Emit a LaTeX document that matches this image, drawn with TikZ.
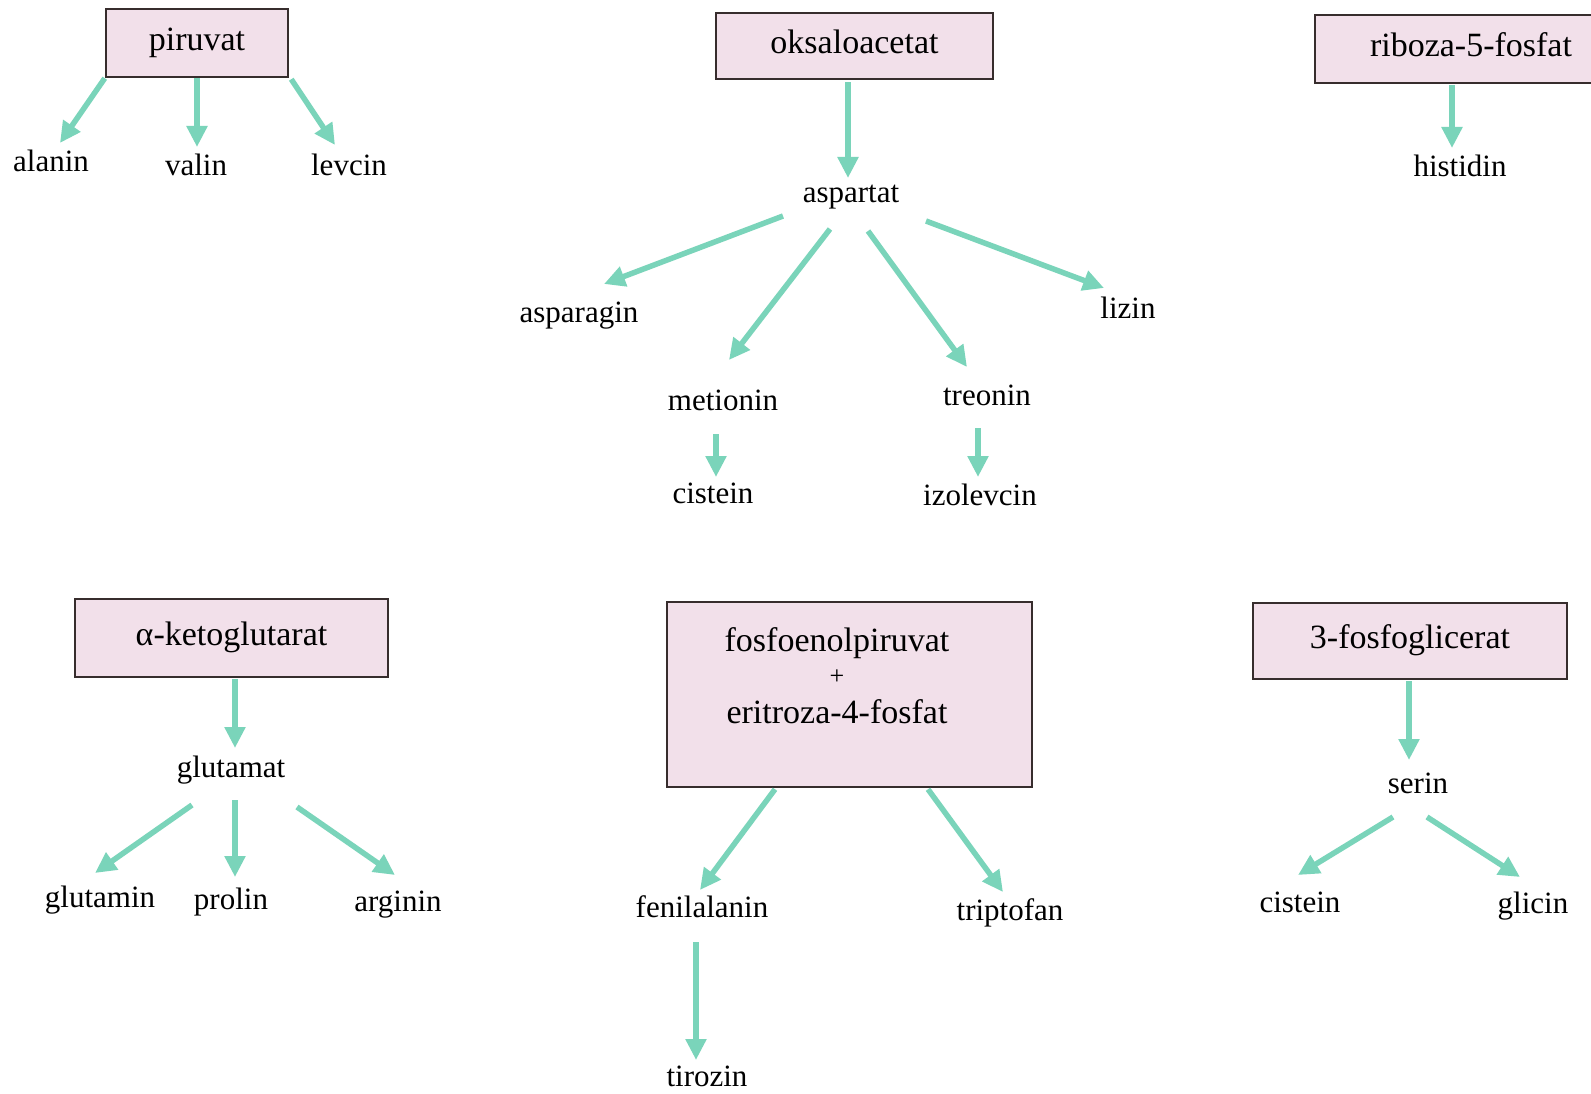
\documentclass[tikz,border=0pt]{standalone}
\usepackage{fontspec}
\setmainfont{Liberation Serif}
\usetikzlibrary{arrows.meta,calc}
\definecolor{arrowcol}{RGB}{122,212,186}
\definecolor{boxfill}{RGB}{242,224,234}
\definecolor{boxline}{RGB}{55,45,45}
\tikzset{
 lbl/.style={inner sep=0pt, text height=22pt, text depth=8pt, font=\fontsize{31}{37}\selectfont},
 boxtxt/.style={inner sep=0pt, text height=24pt, text depth=8.4pt, font=\fontsize{34}{40}\selectfont},
 srcbox/.style={draw=boxline, fill=boxfill, line width=2.5pt, inner sep=0pt, text height=24pt, text depth=8.4pt, font=\fontsize{34}{40}\selectfont},
 arr/.style={draw=arrowcol, line width=5.5pt, -{Triangle[width=20pt,length=21pt]}},
}
\begin{document}
\begin{tikzpicture}[x=1pt,y=-1pt]
\useasboundingbox (0,0) rectangle (1591,1094);
\clip (0,0) rectangle (1591,1094);
\fill[white] (0,0) rectangle (1591,1094);

% source boxes
\node[srcbox, minimum width=182pt, minimum height=68pt] (pir) at (197,43) {piruvat};
\node[srcbox, minimum width=277pt, minimum height=66pt] (oks) at (854.5,46) {oksaloacetat};
\node[srcbox, minimum width=312pt, minimum height=68pt] (rib) at (1471,49) {riboza-5-fosfat};
\node[srcbox, minimum width=313pt, minimum height=78pt] (ake) at (231.5,638) {α-ketoglutarat};
\node[srcbox, minimum width=365pt, minimum height=185pt] (fos) at (849.5,694.5) {};
\node[boxtxt] (fos1) at (837,644) {fosfoenolpiruvat};
\node[boxtxt, font=\fontsize{26}{30}\selectfont] (fosplus) at (837,677) {+};
\node[boxtxt] (fos2) at (837,716) {eritroza-4-fosfat};
\node[srcbox, minimum width=314pt, minimum height=76pt] (fgl) at (1410,641) {3-fosfoglicerat};

% labels
\node[lbl] (alanin) at (51,165) {alanin};
\node[lbl] (valin) at (196,169) {valin};
\node[lbl] (levcin) at (349,169) {levcin};
\node[lbl] (aspartat) at (851,196) {aspartat};
\node[lbl] (asparagin) at (579,315) {asparagin};
\node[lbl] (lizin) at (1128,312) {lizin};
\node[lbl] (metionin) at (723,403) {metionin};
\node[lbl] (treonin) at (987,398) {treonin};
\node[lbl] (cisteinA) at (713,496) {cistein};
\node[lbl] (izolevcin) at (980,498) {izolevcin};
\node[lbl] (histidin) at (1460,170) {histidin};
\node[lbl] (glutamat) at (231,770) {glutamat};
\node[lbl] (glutamin) at (100,900) {glutamin};
\node[lbl] (prolin) at (231,902) {prolin};
\node[lbl] (arginin) at (398,904) {arginin};
\node[lbl] (fenilalanin) at (702,910) {fenilalanin};
\node[lbl] (triptofan) at (1010,913) {triptofan};
\node[lbl, text height=14pt, text depth=0pt] (tirozin) at (707,1079) {tirozin};
\node[lbl] (serin) at (1418,786) {serin};
\node[lbl] (cisteinB) at (1300,905) {cistein};
\node[lbl] (glicin) at (1533,906) {glicin};

% arrows
\draw[arr] (pir.south west) -- ($(alanin)+(9,-22)$);
\draw[arr] (pir.south) -- ($(valin)+(1,-22)$);
\draw[arr] ($(pir.south east)+(2,1)$) -- ($(levcin)+(-14,-24)$);

\draw[arr] ($(oks.south)+(-6.5,2)$) -- ($(aspartat)+(-3,-18)$);
\draw[arr] ($(aspartat)+(-68,20)$) -- ($(asparagin)+(25,-31)$);
\draw[arr] ($(aspartat)+(-21,33)$) -- ($(metionin)+(6,-43)$);
\draw[arr] ($(aspartat)+(17,35)$) -- ($(treonin)+(-20,-31)$);
\draw[arr] ($(aspartat)+(75,25)$) -- ($(lizin)+(-24,-24)$);
\draw[arr] ($(metionin)+(-7,31)$) -- ($(cisteinA)+(3,-19)$);
\draw[arr] ($(treonin)+(-9,30)$) -- ($(izolevcin)+(-2,-21)$);

\draw[arr] ($(rib.south)+(-19,1)$) -- ($(histidin)+(-8,-22)$);

\draw[arr] ($(ake.south)+(3.5,1)$) -- ($(glutamat)+(4,-22)$);
\draw[arr] ($(glutamat)+(-39,35)$) -- ($(glutamin)+(-5,-27)$);
\draw[arr] ($(glutamat)+(4,30)$) -- ($(prolin)+(4,-25)$);
\draw[arr] ($(glutamat)+(66,37)$) -- ($(arginin)+(-3,-29)$);

\draw[arr] ($(fos.south)+(-74.5,1)$) -- ($(fenilalanin)+(-2,-20)$);
\draw[arr] ($(fos.south)+(78.5,1)$) -- ($(triptofan)+(-7,-21)$);
\draw[arr] ($(fenilalanin)+(-6,32)$) -- ($(tirozin)+(-11,-19)$);

\draw[arr] ($(fgl.south)+(-1,1)$) -- ($(serin)+(-9,-26)$);
\draw[arr] ($(serin)+(-25,31)$) -- ($(cisteinB)+(-2,-30)$);
\draw[arr] ($(serin)+(9,31)$) -- ($(glicin)+(-13,-29)$);
\end{tikzpicture}
\end{document}
